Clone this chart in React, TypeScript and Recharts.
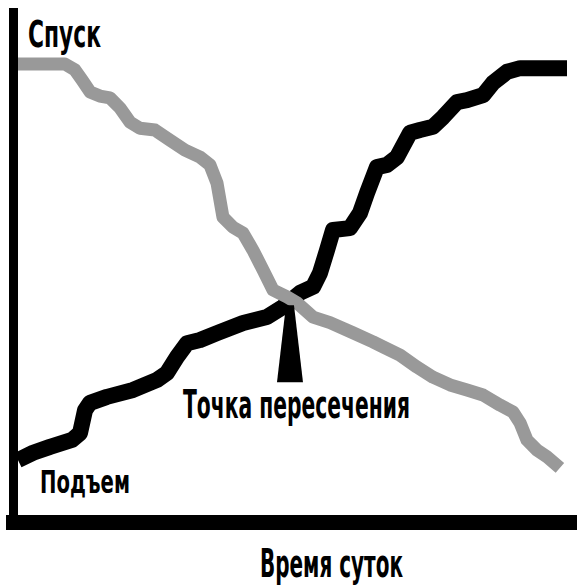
import { LineChart, Line, XAxis, YAxis, ReferenceDot, Label } from "recharts"

// Спуск — серая кривая
const hoursDown = [
  0, 2.05, 2.49, 2.8, 3.15, 3.58, 4.02, 4.46, 4.9, 5.33, 5.99, 6.64, 7.3, 7.96, 8.39, 8.7, 8.96,
  9.4, 9.84, 10.27, 10.71, 11.15, 11.76, 12.2, 12.9, 13.64, 14.64, 15.52, 15.96, 16.7, 17.44,
  18.14, 18.89, 19.63, 20.33, 21.07, 21.64, 21.95, 22.25, 22.69, 23.13, 23.69,
]
const valuesDown = [
  100, 100, 98.7, 96.5, 93.9, 93, 92.6, 90.4, 87.3, 86, 85.6, 83.4, 81.2, 79.7, 78, 74, 66.6,
  64.4, 63.1, 59.4, 55.1, 50.7, 49.2, 47.9, 44.8, 43.6, 41.4, 39.4, 38.3, 36.5, 33.9,
  31.7, 30, 28.9, 27.8, 25.6, 24.1, 21.7, 18, 15.8, 14.3, 11.9,
]

// Подъем — черная кривая
const hoursUp = [
  0, 0.66, 1.4, 2.36, 2.71, 2.93, 3.15, 3.89, 5.03, 6.08, 6.51, 6.95, 7.39, 7.96, 8.7, 9.84,
  10.88, 11.58, 12.33, 12.9, 13.2, 13.51, 13.77, 14.51, 14.95, 15.26, 15.69, 16.13, 16.57,
  17.14, 17.57, 18.14, 18.58, 19.19, 19.63, 20.33, 20.77, 21.38, 21.95, 24,
]
const valuesUp = [
  13.6, 15.2, 16.5, 18, 19.5, 24.5, 26.1, 27.4, 28.9, 31.1, 32.6, 36.1, 39.1, 39.8, 41.3, 43.5,
  44.8, 47, 50.1, 51.4, 54.4, 59.4, 63.8, 64.2, 67.5, 71.9, 77.5, 78, 79.7,
  85, 85.6, 86.3, 88.4, 91.7, 92.1, 93.2, 95.9, 98.3, 99.1, 99.1,
]

const crossingHour = 11.89
const crossingValue = 47.4

const downLabel = "Спуск"
const upLabel = "Подъем"
const crossingLabel = "Точка пересечения"
const axisLabel = "Время суток"

const downData = hoursDown.map((hour, i) => ({ hour, value: valuesDown[i] }))
const upData = hoursUp.map((hour, i) => ({ hour, value: valuesUp[i] }))

const FONT = '"DejaVu Sans Condensed", "DejaVu Sans", "Liberation Sans", Arial, sans-serif'

function Caption(props: any) {
  const { x, y, text, size, width } = props
  return (
    <text
      x={x}
      y={y}
      fontSize={size}
      fontWeight="bold"
      fontFamily={FONT}
      textLength={width}
      lengthAdjust="spacingAndGlyphs"
      fill="#000"
    >
      {text}
    </text>
  )
}

export default function App() {
  return (
    <div style={{ position: "absolute", left: 0, top: 0, background: "#fff" }}>
      <LineChart
        width={577}
        height={587}
        margin={{ top: 8, right: 0, bottom: 0, left: 0 }}
      >
        <Line
          data={upData}
          dataKey="value"
          type="linear"
          stroke="#000"
          strokeWidth={16}
          strokeLinejoin="round"
          strokeLinecap="butt"
          dot={false}
          activeDot={false}
          isAnimationActive={false}
        />
        <Line
          data={downData}
          dataKey="value"
          type="linear"
          stroke="#999999"
          strokeWidth={13}
          strokeLinejoin="round"
          strokeLinecap="butt"
          dot={false}
          activeDot={false}
          isAnimationActive={false}
        />
        <XAxis
          type="number"
          dataKey="hour"
          domain={[0, 24]}
          padding={{ left: 4.5, right: 10 }}
          height={64.5}
          tick={false}
          tickLine={false}
          axisLine={{ stroke: "#000", strokeWidth: 15, strokeLinecap: "square" }}
        >
          <Label
            content={(p: any) => (
              <Caption
                x={p.viewBox.x + 246.5}
                y={p.viewBox.y + 54.5}
                text={axisLabel}
                size={39}
                width={143}
              />
            )}
          />
        </XAxis>
        <YAxis
          type="number"
          domain={[0, 100]}
          padding={{ top: 56, bottom: 0 }}
          width={13.5}
          tick={false}
          tickLine={false}
          axisLine={{ stroke: "#000", strokeWidth: 9 }}
        />
        <ReferenceDot
          x={hoursDown[0]}
          y={valuesDown[0]}
          r={0}
          shape={(p: any) => (
            <Caption x={p.cx + 10} y={p.cy - 17} text={downLabel} size={37} width={73} />
          )}
        />
        <ReferenceDot
          x={hoursUp[0]}
          y={valuesUp[0]}
          r={0}
          shape={(p: any) => (
            <Caption x={p.cx + 22} y={p.cy + 33} text={upLabel} size={32} width={90} />
          )}
        />
        <ReferenceDot
          x={crossingHour}
          y={crossingValue}
          r={0}
          shape={(p: any) => (
            <g>
              <polygon
                points={`${p.cx - 4},${p.cy} ${p.cx + 4},${p.cy} ${p.cx + 13},${p.cy + 77} ${p.cx - 13},${p.cy + 77}`}
                fill="#000"
              />
              <Caption x={p.cx - 107} y={p.cy + 113} text={crossingLabel} size={39} width={227} />
            </g>
          )}
        />
      </LineChart>
    </div>
  )
}
